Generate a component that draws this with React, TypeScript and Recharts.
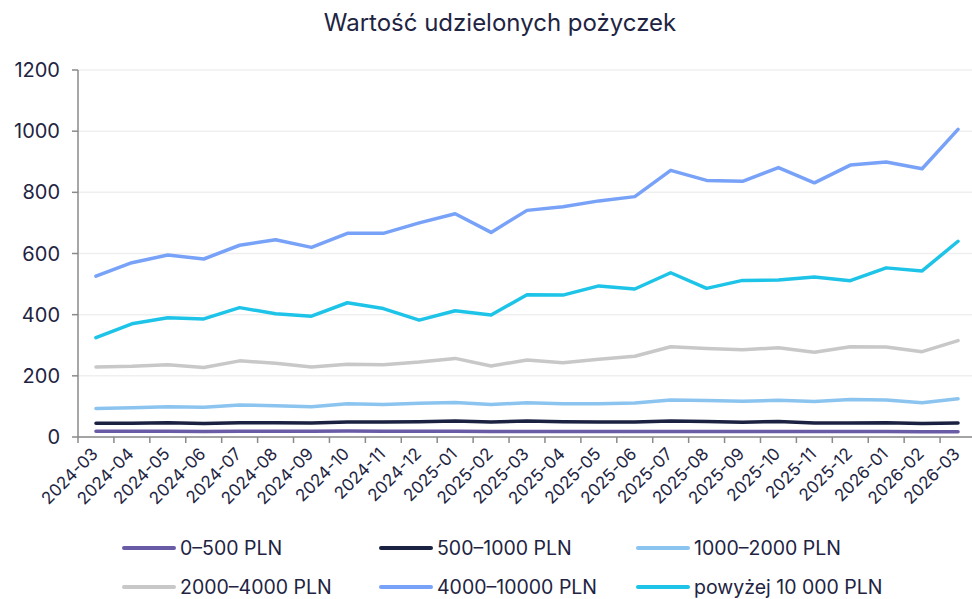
import React from 'react'
import { LineChart, Line, XAxis, YAxis, CartesianGrid, Legend } from 'recharts'

const months = [
  '2024-03', '2024-04', '2024-05', '2024-06', '2024-07', '2024-08', '2024-09',
  '2024-10', '2024-11', '2024-12', '2025-01', '2025-02', '2025-03', '2025-04',
  '2025-05', '2025-06', '2025-07', '2025-08', '2025-09', '2025-10', '2025-11',
  '2025-12', '2026-01', '2026-02', '2026-03',
]

const s0_500 = [19, 19, 19, 18, 19, 19, 19, 20, 19, 19, 19, 18, 18, 18, 18, 18, 18, 18, 18, 18, 18, 18, 18, 17, 17]
const s500_1000 = [45, 45, 47, 44, 47, 47, 46, 49, 49, 50, 52, 49, 52, 50, 49, 49, 52, 51, 48, 51, 46, 46, 47, 44, 46]
const s1000_2000 = [93, 96, 99, 97, 105, 102, 99, 109, 106, 110, 113, 106, 112, 109, 109, 111, 121, 119, 117, 120, 116, 123, 121, 112, 125]
const s2000_4000 = [229, 231, 236, 227, 249, 241, 229, 238, 236, 245, 257, 232, 252, 243, 254, 264, 295, 289, 285, 292, 277, 295, 294, 279, 315]
const s4000_10000 = [526, 570, 595, 582, 627, 645, 620, 666, 666, 700, 730, 669, 741, 753, 772, 786, 872, 839, 836, 881, 831, 889, 899, 877, 1006]
const sOver10000 = [325, 370, 390, 386, 423, 403, 395, 439, 420, 382, 413, 399, 465, 464, 494, 484, 537, 486, 512, 513, 523, 511, 553, 543, 640]

const yTicks = [0, 200, 400, 600, 800, 1000, 1200]

const series = [
  { key: 'a', name: '0–500 PLN', color: '#6a5ba6', values: s0_500 },
  { key: 'b', name: '500–1000 PLN', color: '#1b2140', values: s500_1000 },
  { key: 'c', name: '1000–2000 PLN', color: '#8cc4f0', values: s1000_2000 },
  { key: 'd', name: '2000–4000 PLN', color: '#c8c8c8', values: s2000_4000 },
  { key: 'e', name: '4000–10000 PLN', color: '#78a2f8', values: s4000_10000 },
  { key: 'f', name: 'powyżej 10 000 PLN', color: '#1ec4e8', values: sOver10000 },
]

const data = months.map((m, i) => {
  const row: any = { month: m }
  series.forEach((s) => {
    row[s.key] = s.values[i]
  })
  return row
})

const TEXT = '#1e2442'
const AXIS = '#8a8a8a'
const FONT = 'Inter, "Noto Sans", sans-serif'

const CHART_W = 976
const LEFT = 78
const BAND = (CHART_W - LEFT) / months.length

// label at the category centre, tick mark on the band boundary
const MonthTick = ({ x, y, payload }: any) => {
  const bx = x - BAND / 2
  const lx = x + 3
  const ly = y + 12
  return (
    <g>
      <line x1={bx} y1={y - 6} x2={bx} y2={y} stroke={AXIS} strokeWidth={1.5} />
      <text
        x={lx}
        y={ly}
        transform={`rotate(-45, ${lx}, ${ly})`}
        textAnchor="end"
        fontSize={17}
        fontFamily={FONT}
        fill={TEXT}
      >
        {payload.value}
      </text>
    </g>
  )
}

const renderLegend = () => (
  <div
    style={{
      display: 'grid',
      gridTemplateColumns: 'repeat(3, 257px)',
      fontFamily: FONT,
      fontSize: 19.5,
      color: TEXT,
    }}
  >
    {series.map((s) => (
      <div key={s.key} style={{ display: 'flex', alignItems: 'center', height: 39 }}>
        <svg width={54} height={8} style={{ marginRight: 4 }}>
          <line x1={2} y1={4} x2={52} y2={4} stroke={s.color} strokeWidth={4} strokeLinecap="round" />
        </svg>
        <span>{s.name}</span>
      </div>
    ))}
  </div>
)

export default function App() {
  return (
    <div
      style={{
        position: 'absolute',
        left: 0,
        top: 0,
        width: 972,
        height: 599,
        overflow: 'hidden',
        background: '#fff',
      }}
    >
      <div
        style={{
          position: 'absolute',
          left: 0,
          top: 8,
          width: 1000,
          textAlign: 'center',
          fontFamily: FONT,
          fontSize: 24,
          color: TEXT,
        }}
      >
        Wartość udzielonych pożyczek
      </div>
      <LineChart
        width={CHART_W}
        height={599}
        data={data}
        margin={{ top: 70, right: 0, left: 0, bottom: 79 }}
      >
        <CartesianGrid vertical={false} stroke="#efefef" strokeWidth={1.5} />
        <XAxis
          dataKey="month"
          interval={0}
          height={83}
          padding={{ left: BAND / 2, right: BAND / 2 }}
          tickSize={6}
          tickMargin={0}
          tickLine={false}
          axisLine={{ stroke: AXIS, strokeWidth: 1.5 }}
          tick={<MonthTick />}
        />
        <YAxis
          domain={[0, 1200]}
          ticks={yTicks}
          width={LEFT}
          tickSize={6}
          tickMargin={12}
          axisLine={{ stroke: AXIS, strokeWidth: 1.5 }}
          tickLine={{ stroke: AXIS, strokeWidth: 1.5 }}
          tick={{ fill: TEXT, fontSize: 20, fontFamily: FONT }}
        />
        <Legend
          layout="horizontal"
          verticalAlign="middle"
          align="center"
          content={renderLegend}
          wrapperStyle={{ top: 528, left: 122, width: 800 }}
        />
        {series.map((s) => (
          <Line
            key={s.key}
            type="linear"
            dataKey={s.key}
            name={s.name}
            stroke={s.color}
            strokeWidth={3.5}
            strokeLinecap="round"
            strokeLinejoin="round"
            dot={false}
            activeDot={false}
            isAnimationActive={false}
          />
        ))}
      </LineChart>
    </div>
  )
}
